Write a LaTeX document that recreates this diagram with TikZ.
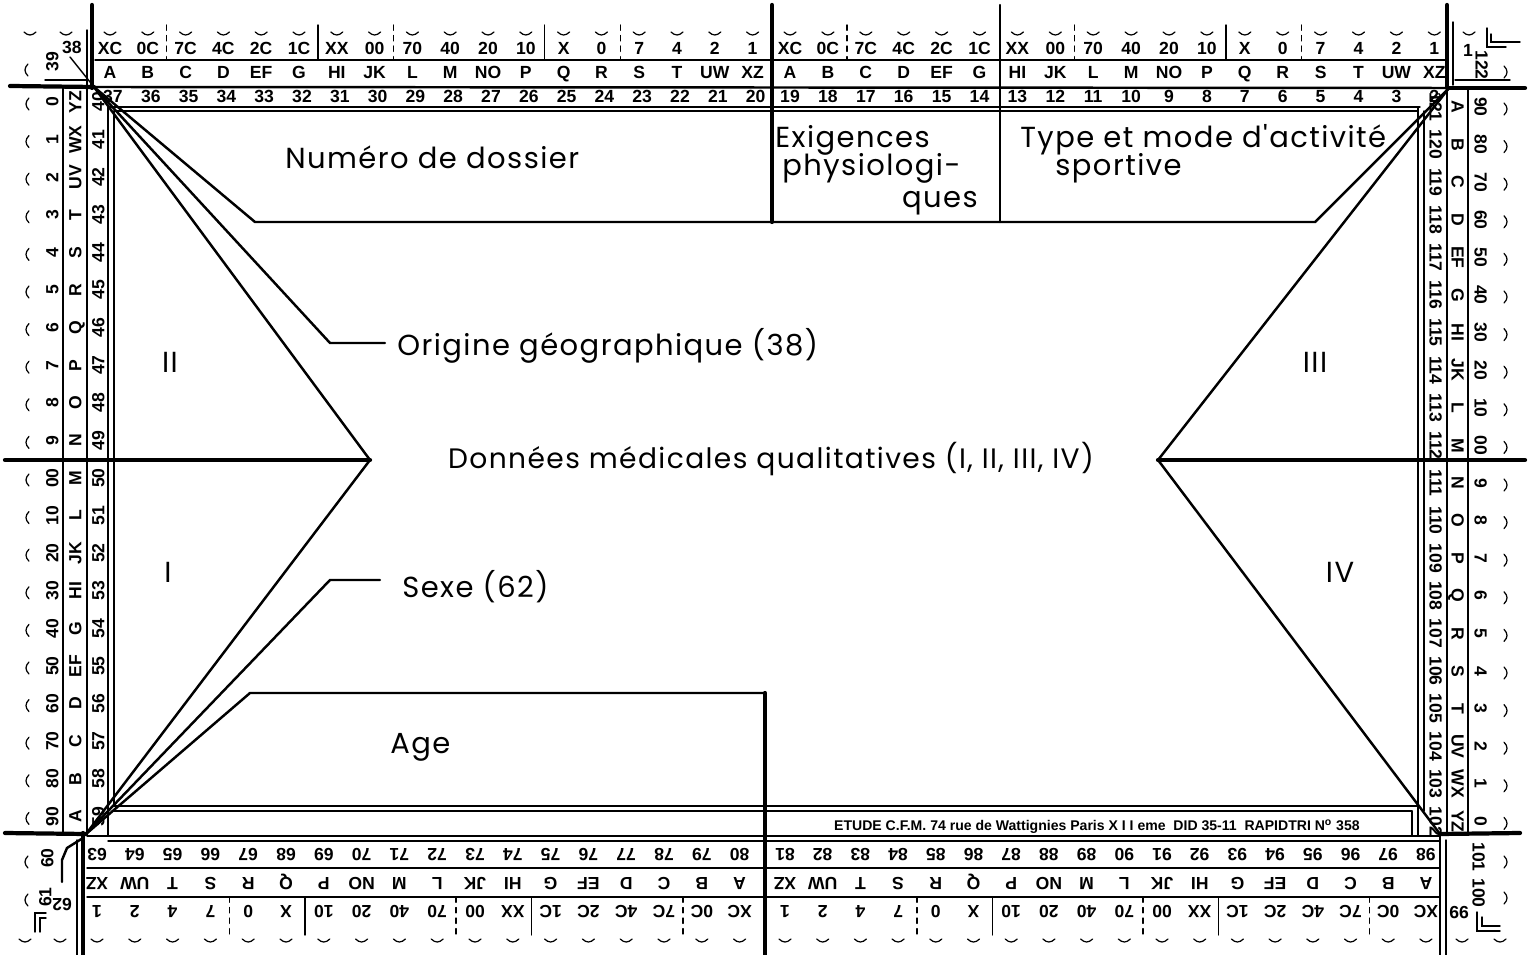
\documentclass[tikz,border=0pt]{standalone}
\usepackage{fontspec}
\setmainfont{Liberation Sans}
\newfontfamily\cardfont[LetterSpace=5]{Poppins}
\usetikzlibrary{positioning}

\begin{document}
\begin{tikzpicture}[
		x=0.02cm, y=-0.02cm,
		edge/.style={
			font=\fontsize{10}{10}\selectfont\bfseries,
			inner sep=0pt,
			text height=7.2pt,
			text depth=0pt
		},
		lside/.style={edge, rotate=90},
		rside/.style={edge, rotate=-90},
		upside/.style={edge, rotate=180},
		field/.style={
			font=\cardfont\fontsize{16.5}{19}\selectfont,
			inner sep=0pt
		},
		rule/.style={line width=0.8pt},
		guide/.style={line width=1.4pt},
		heavy/.style={line width=2.4pt},
		hole/.pic={\draw[line width=0.7pt] (-6,-1) .. controls (-2,3) and (2,3) .. (6,-1);},
		line cap=round
		]
		\useasboundingbox (0,0) rectangle (1533,955);
		
		% corners of the card and ends of the field lines
		\coordinate (tl) at (94,87);
		\coordinate (tr) at (1449,88);
		\coordinate (bl) at (86,834);
		\coordinate (br) at (1440,834);
		\coordinate (apexL) at (370,460);
		\coordinate (apexR) at (1158,460);
		\coordinate (boxL) at (255,222);
		\coordinate (boxR) at (1315,222);
		\coordinate (origA) at (330,343);
		\coordinate (origB) at (385,343);
		\coordinate (sexeA) at (330,580);
		\coordinate (sexeB) at (380,580);
		\coordinate (ageA) at (250,693);
		\coordinate (ageB) at (765,693);
		\coordinate (ageC) at (765,955);
		\coordinate (midL) at (5,460);
		\coordinate (midR) at (1525,460);
		
		% frame
		\draw[heavy] (92,5) -- (92,88);
		\draw[rule] (87,30) -- (87,832);
		\draw[heavy] (1447,5) -- (1447,88);
		\draw[rule] (1453,22) -- (1453,85);
		\draw[heavy] (10,86) -- (tl);
		\draw[guide] (tl) -- (tr);
		\draw[heavy] (tr) -- (1525,88);
		\draw[rule] (45,80) -- (88,80);
		\draw[rule] (1455,80) -- (1510,80);
		\draw[rule] (95,60) -- (1445,60);
		\draw[rule] (110,107) -- (1420,107);
		\draw[rule] (114,111) -- (1418,111);
		\draw[rule] (63,88) -- (63,832);
		\draw[rule] (108,107) -- (108,836);
		\draw[rule] (114,111) -- (114,806);
		\draw[rule] (1418,107) -- (1418,836);
		\draw[rule] (1424,111) -- (1424,811);
		\draw[rule] (1447,88) -- (1447,834);
		\draw[rule] (1468,88) -- (1468,834);
		\draw[rule] (114,806) -- (1418,806);
		\draw[rule] (114,811) -- (1412,811);
		\draw[rule] (1412,811) -- (1412,836);
		\draw[rule] (87,836) -- (1440,836);
		\draw[rule] (108,841) -- (1440,841);
		\draw[rule] (87,868) -- (1440,868);
		\draw[rule] (87,897) -- (1440,897);
		\draw[heavy] (5,833) -- (bl);
		\draw[heavy] (83,833) -- (83,955);
		\draw[rule] (77,840) -- (77,955);
		\draw[heavy] (br) -- (1520,833);
		\draw[rule] (1440,834) -- (1440,955);
		\draw[rule] (1446,840) -- (1446,955);
		\draw[heavy] (772,5) -- (772,222);
		\draw[guide] (1000,5) -- (1000,222);
		\draw[heavy] (midL) -- (apexL);
		\draw[heavy] (apexR) -- (midR);
		
		% fields
		\draw[guide] (tl) -- (boxL) -- (boxR) -- (tr);
		\draw[guide] (tl) -- (origA) -- (origB);
		\draw[guide] (tl) -- (apexL) -- (bl);
		\draw[guide] (bl) -- (sexeA) -- (sexeB);
		\draw[guide] (bl) -- (ageA) -- (ageB);
		\draw[heavy] (ageB) -- (ageC);
		\draw[guide] (tr) -- (apexR) -- (br);
		\draw[rule] (70,57) -- (tl);
		\draw[guide] (83,838) -- (67,848) -- (62,860) -- (62,882);
		
		% top edge
		\foreach \lab [count=\i from 0] in {XC,0C,7C,4C,2C,1C,XX,00,70,40,20,10,X,0,7,4,2,1}
		{
			\node[edge] (tca-\i) at ({110+37.8*\i},48) {\lab};
			\node[edge] (tcb-\i) at ({790+37.9*\i},48) {\lab};
		}
		\foreach \lab [count=\i from 0] in {A,B,C,D,EF,G,HI,JK,L,M,NO,P,Q,R,S,T,UW,XZ}
		{
			\node[edge] (tla-\i) at ({110+37.8*\i},72) {\lab};
			\node[edge] (tlb-\i) at ({790+37.9*\i},72) {\lab};
		}
		\foreach \i in {0,...,17}
		{
			\pgfmathtruncatemacro{\na}{37-\i}
			\pgfmathtruncatemacro{\nb}{19-\i}
			\node[edge] (tna-\i) at ({113+37.8*\i},96) {\na};
			\node[edge] (tnb-\i) at ({790+37.9*\i},96) {\nb};
		}
		\foreach \i/\sty in {1/dashed,5/solid,7/dashed,11/solid,13/dashed}
		{
			\draw[rule,\sty] ({110+37.8*(\i+0.5)},25) -- ({110+37.8*(\i+0.5)},60);
		}
		\foreach \i/\sty in {1/dashed,7/dashed,11/solid,13/dashed}
		{
			\draw[rule,\sty] ({790+37.9*(\i+0.5)},25) -- ({790+37.9*(\i+0.5)},60);
		}
		
		% bottom edge
		\foreach \lab [count=\i from 0] in {1,2,4,7,0,X,10,20,40,70,00,XX,1C,2C,4C,7C,0C,XC}
		{
			\node[upside] (bca-\i) at ({97+37.8*\i},912) {\lab};
			\node[upside] (bcb-\i) at ({785+37.7*\i},912) {\lab};
		}
		\foreach \lab [count=\i from 0] in {XZ,UW,T,S,R,Q,P,NO,M,L,JK,HI,G,EF,D,C,B,A}
		{
			\node[upside] (bla-\i) at ({97+37.8*\i},884) {\lab};
			\node[upside] (blb-\i) at ({785+37.7*\i},884) {\lab};
		}
		\foreach \i in {0,...,17}
		{
			\pgfmathtruncatemacro{\na}{63+\i}
			\pgfmathtruncatemacro{\nb}{81+\i}
			\node[upside] (bna-\i) at ({97+37.8*\i},855) {\na};
			\node[upside] (bnb-\i) at ({785+37.7*\i},855) {\nb};
		}
		\foreach \i/\sty in {3/dashed,5/solid,9/dashed,11/solid,15/dashed}
		{
			\draw[rule,\sty] ({97+37.8*(\i+0.5)},897) -- ({97+37.8*(\i+0.5)},935);
			\draw[rule,\sty] ({785+37.7*(\i+0.5)},897) -- ({785+37.7*(\i+0.5)},935);
		}
		
		% left edge
		\foreach \lab [count=\i from 0] in {0,1,2,3,4,5,6,7,8,9,00,10,20,30,40,50,60,70,80,90}
		\node[lside] (ld-\i) at (52,{102+37.6*\i}) {\lab};
		\foreach \lab [count=\i from 0] in {YZ,WX,UV,T,S,R,Q,P,O,N,M,L,JK,HI,G,EF,D,C,B,A}
		\node[lside] (ll-\i) at (75,{102+37.6*\i}) {\lab};
		\foreach \i in {0,...,19}
		{
			\pgfmathtruncatemacro{\n}{40+\i}
			\node[lside] (ln-\i) at (98,{102+37.6*\i}) {\n};
		}
		
		% right edge
		\foreach \lab [count=\i from 0] in {90,80,70,60,50,40,30,20,10,00,9,8,7,6,5,4,3,2,1,0}
		\node[rside] (rd-\i) at (1481,{107+37.6*\i}) {\lab};
		\foreach \lab [count=\i from 0] in {A,B,C,D,EF,G,HI,JK,L,M,N,O,P,Q,R,S,T,UV,WX,YZ}
		\node[rside] (rl-\i) at (1458,{107+37.6*\i}) {\lab};
		\foreach \i in {0,...,19}
		{
			\pgfmathtruncatemacro{\n}{121-\i}
			\node[rside] (rn-\i) at (1436,{107+37.6*\i}) {\n};
		}
		
		% corner numbers
		\node[edge] (n38) at (72,47) {38};
		\node[lside] (n39) at (52,62) {39};
		\node[edge] (n1) at (1468,50) {1};
		\node[rside] (n122) at (1482,65) {122};
		\node[lside] (n60) at (47,858) {60};
		\node[lside] (n61) at (45,897) {61};
		\node[upside] (n62) at (62,905) {62};
		\node[rside] (n101) at (1479,857) {101};
		\node[rside] (n100) at (1479,893) {100};
		\node[upside] (n99) at (1459,913) {99};
		
		% corner marks
		\draw[rule] (1487,28) -- (1487,47) -- (1506,47);
		\draw[rule] (1491,34) -- (1491,42) -- (1520,42);
		\draw[rule] (1477,912) -- (1477,931) -- (1500,931);
		\draw[rule] (1482,917) -- (1482,926) -- (1500,926);
		\draw[rule] (35,932) -- (35,913) -- (46,913);
		\draw[rule] (40,932) -- (40,918) -- (46,918);
		
		% holes
		\foreach \i in {0,...,17}
		{
			\pic at ({110+37.8*\i},33) {hole};
			\pic at ({790+37.9*\i},33) {hole};
			\pic at ({97+37.8*\i},940) {hole};
			\pic at ({785+37.7*\i},940) {hole};
		}
		\foreach \x in {30,66,1469}
		\pic at (\x,33) {hole};
		\foreach \x in {25,60,1462,1500}
		\pic at (\x,940) {hole};
		\foreach \i in {0,...,19}
		{
			\pic[rotate=-90] at (28,{104+37.6*\i}) {hole};
			\pic[rotate=90] at (1505,{109+37.6*\i}) {hole};
		}
		\foreach \y in {70,862,900}
		\pic[rotate=-90] at (27,\y) {hole};
		\foreach \y in {72,862,898}
		\pic[rotate=90] at (1505,\y) {hole};
		
		% field labels
		\node[field, anchor=west] (dossier) at (285,157) {Numéro de dossier};
		\node[field, anchor=west] (exig) at (775,140) {Exigences};
		\node[field, anchor=west] (physio) at (782,168) {physiologi-};
		\node[field, anchor=east] (ques) at (978,203) {ques};
		\node[field, anchor=west] (typeact) at (1020,140) {Type et mode d'activité};
		\node[field, anchor=west] (sport) at (1055,168) {sportive};
		\node[field, anchor=west] (origine) at (397,346) {Origine géographique (38)};
		\node[field, font=\cardfont\fontsize{16}{19}\selectfont] (medic) at (771,459) {Données médicales qualitatives (I, II, III, IV)};
		\node[field] (qII) at (170,362) {II};
		\node[field] (qIII) at (1315,362) {III};
		\node[field] (qI) at (168,572) {I};
		\node[field] (qIV) at (1340,572) {IV};
		\node[field, anchor=west] (sexe) at (402,587) {Sexe (62)};
		\node[field, anchor=west] (age) at (390,747) {Age};
		\node[edge, anchor=east, font=\fontsize{8}{9}\selectfont\bfseries] (etude) at (1360,824)
			{ETUDE C.F.M. 74 rue de Wattignies Paris X I I eme\ \ DID 35-11\ \ RAPIDTRI N\textsuperscript{o} 358};
		
	\end{tikzpicture}
\end{document}
